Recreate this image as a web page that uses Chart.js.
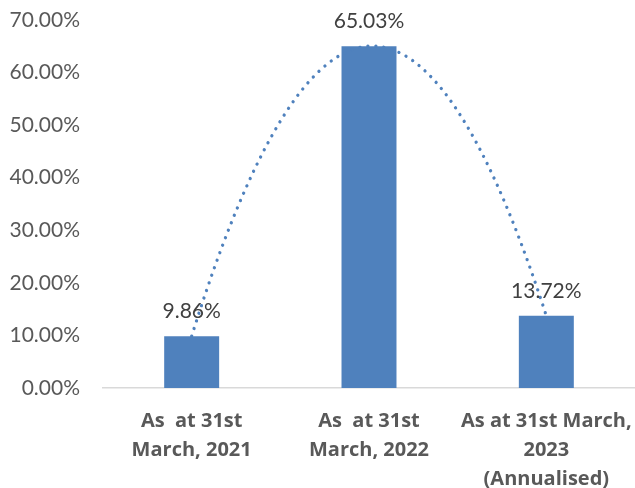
<!DOCTYPE html>
<html>
<head>
<meta charset="utf-8">
<script src="https://cdn.jsdelivr.net/npm/chart.js@4/dist/chart.umd.min.js"></script>
<style>
html,body{margin:0;padding:0;background:#fff;}
#wrap{width:635px;height:488px;position:relative;}
</style>
</head>
<body>
<div id="wrap"><canvas id="c"></canvas></div>
<script>
const categories = [["As  at 31st", "March, 2021"], ["As  at 31st", "March, 2022"], ["As at 31st March,", "2023", "(Annualised)"]];
const values = [9.86, 65.03, 13.72];
const yMin = 0, yMax = 70, yStep = 10;

const FONT = "Lato, 'Open Sans', sans-serif";
const XFONT = "'Open Sans', Lato, sans-serif";
const BLUE = '#4F81BD';

// Polynomial (order 2) trendline fitted to the series, drawn via the chart scales
const trendPlugin = {
  id: 'trend',
  afterDatasetsDraw(chart) {
    const xs = chart.scales.x, ys = chart.scales.y, ctx = chart.ctx;
    const n = values.length;
    let S = [0,0,0,0,0], T = [0,0,0];
    for (let i = 0; i < n; i++) {
      for (let k = 0; k < 5; k++) S[k] += Math.pow(i, k);
      for (let k = 0; k < 3; k++) T[k] += values[i] * Math.pow(i, k);
    }
    const M = [[S[0],S[1],S[2],T[0]],[S[1],S[2],S[3],T[1]],[S[2],S[3],S[4],T[2]]];
    for (let c = 0; c < 3; c++) {
      for (let r = c + 1; r < 3; r++) {
        const f = M[r][c] / M[c][c];
        for (let k = c; k < 4; k++) M[r][k] -= f * M[c][k];
      }
    }
    const co = [0,0,0];
    for (let r = 2; r >= 0; r--) {
      let s = M[r][3];
      for (let k = r + 1; k < 3; k++) s -= M[r][k] * co[k];
      co[r] = s / M[r][r];
    }
    ctx.save();
    ctx.beginPath();
    const steps = 200;
    for (let s = 0; s <= steps; s++) {
      const t = (n - 1) * s / steps;
      const v = co[0] + co[1] * t + co[2] * t * t;
      const px = xs.getPixelForValue(t), py = ys.getPixelForValue(v);
      if (s === 0) ctx.moveTo(px, py); else ctx.lineTo(px, py);
    }
    ctx.strokeStyle = BLUE;
    ctx.lineWidth = 3.3;
    ctx.lineCap = 'round';
    ctx.setLineDash([0.01, 8]);
    ctx.stroke();
    ctx.restore();
  }
};

const labelPlugin = {
  id: 'vlabels',
  afterDraw(chart) {
    const ctx = chart.ctx;
    const meta = chart.getDatasetMeta(0);
    ctx.save();
    ctx.font = '21px ' + FONT;
    ctx.fillStyle = '#404040';
    ctx.textAlign = 'center';
    ctx.textBaseline = 'middle';
    meta.data.forEach((bar, i) => {
      ctx.fillText(values[i].toFixed(2) + '%', bar.x, bar.y - 25);
    });
    ctx.restore();
  }
};

new Chart(document.getElementById('c'), {
  type: 'bar',
  data: {
    labels: categories,
    datasets: [{
      data: values,
      backgroundColor: BLUE,
      borderWidth: 0,
      categoryPercentage: 1,
      barPercentage: 0.31
    }]
  },
  options: {
    responsive: true,
    maintainAspectRatio: false,
    animation: false,
    devicePixelRatio: 1,
    layout: { padding: { top: 20, right: 0, left: 0, bottom: 0 } },
    plugins: { legend: { display: false }, tooltip: { enabled: false } },
    scales: {
      y: {
        min: yMin, max: yMax,
        ticks: {
          stepSize: yStep,
          padding: 0,
          color: '#595959',
          font: { family: FONT, size: 21 },
          callback: v => v.toFixed(2) + '%'
        },
        grid: { display: false, drawTicks: true, tickLength: 23 },
        border: { display: false },
        afterFit: s => { s.width = 103; }
      },
      x: {
        ticks: {
          color: '#595959',
          padding: 19,
          maxRotation: 0,
          autoSkip: false,
          font: { family: XFONT, size: 20, weight: 'bold', lineHeight: 1.45 }
        },
        grid: { display: false, drawTicks: false },
        border: { display: true, color: '#D9D9D9', width: 1.5 },
        afterFit: s => { s.height = 100; s.paddingLeft = 0; s.paddingRight = 0; }
      }
    }
  },
  plugins: [trendPlugin, labelPlugin]
});
</script>
</body>
</html>
